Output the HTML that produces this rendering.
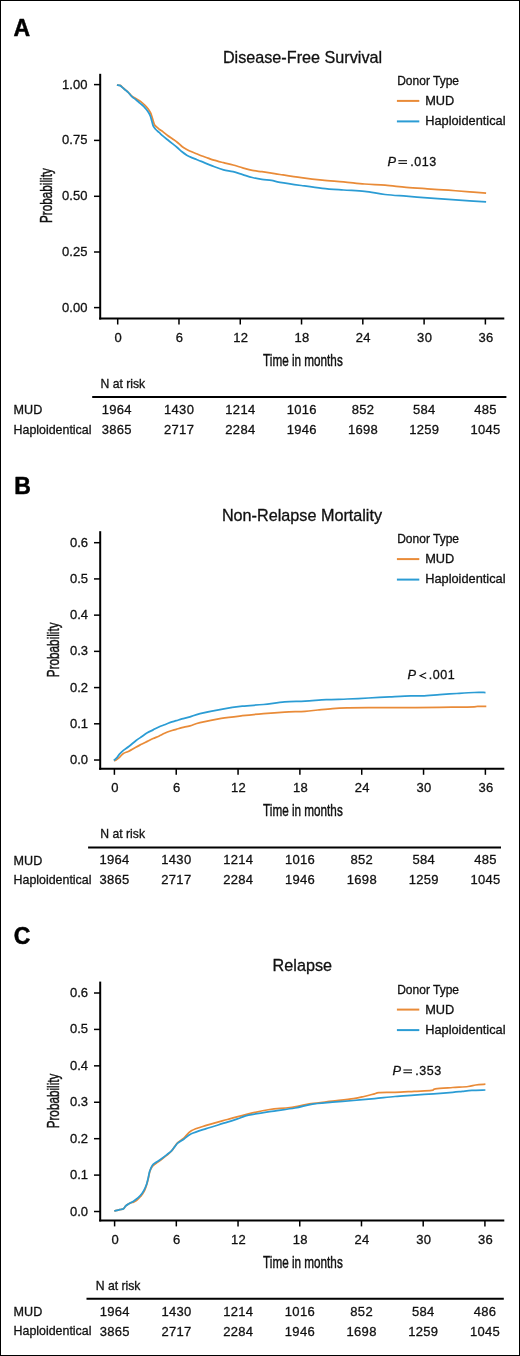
<!DOCTYPE html>
<html><head><meta charset="utf-8"><style>
html,body{margin:0;padding:0;background:#fff;}
svg{display:block;will-change:transform;}
text{font-family:"Liberation Sans", sans-serif;fill:#111;stroke:#111;stroke-width:0.3px;}
</style></head><body>
<svg width="520" height="1356" viewBox="0 0 520 1356">
<rect x="0" y="0" width="520" height="1356" fill="#fff"/>
<rect x="0.5" y="0.5" width="519" height="1355" fill="none" stroke="#000" stroke-width="1"/>
<text x="13.6" y="35.8" font-size="23" text-anchor="start" font-weight="bold" style="fill:#000;stroke:#000;stroke-width:0.5px;stroke-linejoin:round">A</text>
<text x="302.5" y="62.9" font-size="16.2" text-anchor="middle">Disease-Free Survival</text>
<text x="397.2" y="84.8" font-size="12" text-anchor="start">Donor Type</text>
<line x1="396.9" y1="100.9" x2="419.3" y2="100.9" stroke="#E98B38" stroke-width="2"/>
<text x="425.2" y="105.1" font-size="12.8" text-anchor="start">MUD</text>
<line x1="396.9" y1="121.4" x2="419.3" y2="121.4" stroke="#2B9CD4" stroke-width="2"/>
<text x="425.2" y="125.2" font-size="12.8" text-anchor="start">Haploidentical</text>
<text x="387.4" y="165.5" font-size="12.8" text-anchor="start" font-style="italic">P</text>
<rect x="398.4" y="160.15" width="8.6" height="1.1" fill="#111"/>
<rect x="398.4" y="162.85" width="8.6" height="1.1" fill="#111"/>
<text x="410.2" y="165.5" font-size="12.5" text-anchor="start" letter-spacing="0.6">.013</text>
<line x1="100.2" y1="73.8" x2="100.2" y2="319.5" stroke="#000" stroke-width="2"/>
<line x1="99.2" y1="318.5" x2="504.3" y2="318.5" stroke="#000" stroke-width="2"/>
<line x1="94" y1="84.6" x2="100.2" y2="84.6" stroke="#000" stroke-width="1.5"/>
<text x="87.4" y="88.6" font-size="13" text-anchor="end">1.00</text>
<line x1="94" y1="140.4" x2="100.2" y2="140.4" stroke="#000" stroke-width="1.5"/>
<text x="87.4" y="144.4" font-size="13" text-anchor="end">0.75</text>
<line x1="94" y1="196.3" x2="100.2" y2="196.3" stroke="#000" stroke-width="1.5"/>
<text x="87.4" y="200.3" font-size="13" text-anchor="end">0.50</text>
<line x1="94" y1="252" x2="100.2" y2="252" stroke="#000" stroke-width="1.5"/>
<text x="87.4" y="256" font-size="13" text-anchor="end">0.25</text>
<line x1="94" y1="307.6" x2="100.2" y2="307.6" stroke="#000" stroke-width="1.5"/>
<text x="87.4" y="311.6" font-size="13" text-anchor="end">0.00</text>
<line x1="117.7" y1="318.5" x2="117.7" y2="324.5" stroke="#000" stroke-width="1.5"/>
<text x="118.25" y="341.6" font-size="13" text-anchor="middle" letter-spacing="0.3">0</text>
<line x1="178.98" y1="318.5" x2="178.98" y2="324.5" stroke="#000" stroke-width="1.5"/>
<text x="179.53" y="341.6" font-size="13" text-anchor="middle" letter-spacing="0.3">6</text>
<line x1="240.26" y1="318.5" x2="240.26" y2="324.5" stroke="#000" stroke-width="1.5"/>
<text x="240.81" y="341.6" font-size="13" text-anchor="middle" letter-spacing="0.3">12</text>
<line x1="301.54" y1="318.5" x2="301.54" y2="324.5" stroke="#000" stroke-width="1.5"/>
<text x="302.09" y="341.6" font-size="13" text-anchor="middle" letter-spacing="0.3">18</text>
<line x1="362.82" y1="318.5" x2="362.82" y2="324.5" stroke="#000" stroke-width="1.5"/>
<text x="363.37" y="341.6" font-size="13" text-anchor="middle" letter-spacing="0.3">24</text>
<line x1="424.1" y1="318.5" x2="424.1" y2="324.5" stroke="#000" stroke-width="1.5"/>
<text x="424.65" y="341.6" font-size="13" text-anchor="middle" letter-spacing="0.3">30</text>
<line x1="485.38" y1="318.5" x2="485.38" y2="324.5" stroke="#000" stroke-width="1.5"/>
<text x="485.93" y="341.6" font-size="13" text-anchor="middle" letter-spacing="0.3">36</text>
<text transform="translate(51.6,195.6) rotate(-90) scale(0.69,1)" font-size="17" text-anchor="middle" style="stroke-width:0.45px">Probability</text>
<text transform="translate(302.9,365.5) scale(0.69,1)" font-size="17" text-anchor="middle" style="stroke-width:0.45px">Time in months</text>
<text x="100.5" y="387.6" font-size="12.2" text-anchor="start">N at risk</text>
<line x1="92.2" y1="397" x2="506.4" y2="397" stroke="#000" stroke-width="2"/>
<text x="13.6" y="414.2" font-size="12.6" text-anchor="start">MUD</text>
<text x="13.6" y="433.6" font-size="12.4" text-anchor="start">Haploidentical</text>
<text x="116.85" y="414.3" font-size="13" text-anchor="middle" letter-spacing="0.3">1964</text>
<text x="116.85" y="434.3" font-size="13" text-anchor="middle" letter-spacing="0.3">3865</text>
<text x="179.13" y="414.3" font-size="13" text-anchor="middle" letter-spacing="0.3">1430</text>
<text x="179.13" y="434.3" font-size="13" text-anchor="middle" letter-spacing="0.3">2717</text>
<text x="240.41" y="414.3" font-size="13" text-anchor="middle" letter-spacing="0.3">1214</text>
<text x="240.41" y="434.3" font-size="13" text-anchor="middle" letter-spacing="0.3">2284</text>
<text x="301.69" y="414.3" font-size="13" text-anchor="middle" letter-spacing="0.3">1016</text>
<text x="301.69" y="434.3" font-size="13" text-anchor="middle" letter-spacing="0.3">1946</text>
<text x="362.97" y="414.3" font-size="13" text-anchor="middle" letter-spacing="0.3">852</text>
<text x="362.97" y="434.3" font-size="13" text-anchor="middle" letter-spacing="0.3">1698</text>
<text x="424.25" y="414.3" font-size="13" text-anchor="middle" letter-spacing="0.3">584</text>
<text x="424.25" y="434.3" font-size="13" text-anchor="middle" letter-spacing="0.3">1259</text>
<text x="485.53" y="414.3" font-size="13" text-anchor="middle" letter-spacing="0.3">485</text>
<text x="485.53" y="434.3" font-size="13" text-anchor="middle" letter-spacing="0.3">1045</text>
<path d="M116.9,85 C117.45,85.07 119.25,84.98 120.2,85.4 C121.15,85.82 121.72,86.75 122.6,87.5 C123.48,88.25 124.55,89.1 125.5,89.9 C126.45,90.7 127.42,91.43 128.3,92.3 C129.18,93.17 130.07,94.35 130.8,95.1 C131.53,95.85 131.67,96.12 132.7,96.8 C133.73,97.48 135.65,98.4 137,99.2 C138.35,100 139.52,100.63 140.8,101.6 C142.08,102.57 143.5,103.8 144.7,105 C145.9,106.2 147.03,107.52 148,108.8 C148.97,110.08 149.85,111.42 150.5,112.7 C151.15,113.98 151.43,115.07 151.9,116.5 C152.37,117.93 152.82,119.85 153.3,121.3 C153.78,122.75 154.15,124.18 154.8,125.2 C155.45,126.22 156.33,126.63 157.2,127.4 C158.07,128.17 159.07,129.1 160,129.8 C160.93,130.5 161.53,130.65 162.8,131.6 C164.07,132.55 166,134.3 167.6,135.5 C169.2,136.7 170.8,137.68 172.4,138.8 C174,139.92 175.6,140.92 177.2,142.2 C178.8,143.48 180.4,145.3 182,146.5 C183.6,147.7 185.18,148.52 186.8,149.4 C188.42,150.28 190.08,151.08 191.7,151.8 C193.32,152.52 194.9,153.05 196.5,153.7 C198.1,154.35 199.38,154.97 201.3,155.7 C203.22,156.43 205.92,157.35 208,158.1 C210.08,158.85 211.22,159.43 213.8,160.2 C216.38,160.97 220.28,161.9 223.5,162.7 C226.72,163.5 229.9,164.13 233.1,165 C236.3,165.87 239.5,167 242.7,167.9 C245.9,168.8 249.1,169.77 252.3,170.4 C255.5,171.03 258.7,171.25 261.9,171.7 C265.1,172.15 268.48,172.63 271.5,173.1 C274.52,173.57 275.05,173.73 280,174.5 C284.95,175.27 294.15,176.75 301.2,177.7 C308.25,178.65 315.25,179.5 322.3,180.2 C329.35,180.9 336.45,181.27 343.5,181.9 C350.55,182.53 357.68,183.45 364.6,184 C371.52,184.55 378.07,184.65 385,185.2 C391.93,185.75 399.15,186.7 406.2,187.3 C413.25,187.9 420.25,188.32 427.3,188.8 C434.35,189.28 441.45,189.68 448.5,190.2 C455.55,190.72 463.33,191.4 469.6,191.9 C475.87,192.4 483.35,192.98 486.1,193.2" fill="none" stroke="#E98B38" stroke-width="1.75" stroke-linejoin="round" stroke-linecap="butt"/>
<path d="M116.9,85 C117.45,85.1 119.25,85.15 120.2,85.6 C121.15,86.05 121.72,86.95 122.6,87.7 C123.48,88.45 124.55,89.3 125.5,90.1 C126.45,90.9 127.42,91.62 128.3,92.5 C129.18,93.38 130.07,94.6 130.8,95.4 C131.53,96.2 131.83,96.58 132.7,97.3 C133.57,98.02 134.8,98.73 136,99.7 C137.2,100.67 138.62,101.98 139.9,103.1 C141.18,104.22 142.58,105.28 143.7,106.4 C144.82,107.52 145.72,108.67 146.6,109.8 C147.48,110.93 148.35,112.08 149,113.2 C149.65,114.32 150.02,115.15 150.5,116.5 C150.98,117.85 151.43,119.68 151.9,121.3 C152.37,122.92 152.65,124.83 153.3,126.2 C153.95,127.57 154.83,128.47 155.8,129.5 C156.77,130.53 157.93,131.33 159.1,132.4 C160.27,133.47 161.38,134.67 162.8,135.9 C164.22,137.13 166,138.52 167.6,139.8 C169.2,141.08 170.8,142.32 172.4,143.6 C174,144.88 175.6,146.13 177.2,147.5 C178.8,148.87 180.4,150.52 182,151.8 C183.6,153.08 185.18,154.23 186.8,155.2 C188.42,156.17 190.08,156.88 191.7,157.6 C193.32,158.32 194.9,158.87 196.5,159.5 C198.1,160.13 198.42,160.23 201.3,161.4 C204.18,162.57 210.1,165.1 213.8,166.5 C217.5,167.9 220.28,168.93 223.5,169.8 C226.72,170.67 229.9,170.9 233.1,171.7 C236.3,172.5 239.5,173.63 242.7,174.6 C245.9,175.57 249.1,176.7 252.3,177.5 C255.5,178.3 258.7,178.92 261.9,179.4 C265.1,179.88 268.48,179.92 271.5,180.4 C274.52,180.88 275.05,181.45 280,182.3 C284.95,183.15 294.15,184.5 301.2,185.5 C308.25,186.5 315.25,187.55 322.3,188.3 C329.35,189.05 336.45,189.48 343.5,190 C350.55,190.52 357.68,190.65 364.6,191.4 C371.52,192.15 378.07,193.7 385,194.5 C391.93,195.3 399.15,195.65 406.2,196.2 C413.25,196.75 420.25,197.28 427.3,197.8 C434.35,198.32 441.45,198.8 448.5,199.3 C455.55,199.8 463.33,200.37 469.6,200.8 C475.87,201.23 483.35,201.72 486.1,201.9" fill="none" stroke="#2B9CD4" stroke-width="1.75" stroke-linejoin="round" stroke-linecap="butt"/>
<text x="14.2" y="493.7" font-size="23" text-anchor="start" font-weight="bold" style="fill:#000;stroke:#000;stroke-width:0.5px;stroke-linejoin:round">B</text>
<text x="302" y="520.6" font-size="16.2" text-anchor="middle">Non-Relapse Mortality</text>
<text x="397.2" y="543" font-size="12" text-anchor="start">Donor Type</text>
<line x1="396.9" y1="559.1" x2="419.3" y2="559.1" stroke="#E98B38" stroke-width="2"/>
<text x="425.2" y="563.3" font-size="12.8" text-anchor="start">MUD</text>
<line x1="396.9" y1="579.6" x2="419.3" y2="579.6" stroke="#2B9CD4" stroke-width="2"/>
<text x="425.2" y="583.4" font-size="12.8" text-anchor="start">Haploidentical</text>
<text x="407.4" y="679" font-size="12.8" text-anchor="start" font-style="italic">P</text>
<path d="M426.2,672.8 L420,675.7 L426.2,678.6" fill="none" stroke="#111" stroke-width="1.1"/>
<text x="428.7" y="679" font-size="12.5" text-anchor="start" letter-spacing="0.6">.001</text>
<line x1="100.2" y1="531.2" x2="100.2" y2="769.8" stroke="#000" stroke-width="2"/>
<line x1="99.2" y1="768.8" x2="504.3" y2="768.8" stroke="#000" stroke-width="2"/>
<line x1="94" y1="542.7" x2="100.2" y2="542.7" stroke="#000" stroke-width="1.5"/>
<text x="88" y="546.7" font-size="13" text-anchor="end">0.6</text>
<line x1="94" y1="578.92" x2="100.2" y2="578.92" stroke="#000" stroke-width="1.5"/>
<text x="88" y="582.92" font-size="13" text-anchor="end">0.5</text>
<line x1="94" y1="615.14" x2="100.2" y2="615.14" stroke="#000" stroke-width="1.5"/>
<text x="88" y="619.14" font-size="13" text-anchor="end">0.4</text>
<line x1="94" y1="651.36" x2="100.2" y2="651.36" stroke="#000" stroke-width="1.5"/>
<text x="88" y="655.36" font-size="13" text-anchor="end">0.3</text>
<line x1="94" y1="687.58" x2="100.2" y2="687.58" stroke="#000" stroke-width="1.5"/>
<text x="88" y="691.58" font-size="13" text-anchor="end">0.2</text>
<line x1="94" y1="723.8" x2="100.2" y2="723.8" stroke="#000" stroke-width="1.5"/>
<text x="88" y="727.8" font-size="13" text-anchor="end">0.1</text>
<line x1="94" y1="760.02" x2="100.2" y2="760.02" stroke="#000" stroke-width="1.5"/>
<text x="88" y="764.02" font-size="13" text-anchor="end">0.0</text>
<line x1="114.4" y1="768.8" x2="114.4" y2="774.8" stroke="#000" stroke-width="1.5"/>
<text x="114.95" y="792.3" font-size="13" text-anchor="middle" letter-spacing="0.3">0</text>
<line x1="176.23" y1="768.8" x2="176.23" y2="774.8" stroke="#000" stroke-width="1.5"/>
<text x="176.78" y="792.3" font-size="13" text-anchor="middle" letter-spacing="0.3">6</text>
<line x1="238.06" y1="768.8" x2="238.06" y2="774.8" stroke="#000" stroke-width="1.5"/>
<text x="238.61" y="792.3" font-size="13" text-anchor="middle" letter-spacing="0.3">12</text>
<line x1="299.89" y1="768.8" x2="299.89" y2="774.8" stroke="#000" stroke-width="1.5"/>
<text x="300.44" y="792.3" font-size="13" text-anchor="middle" letter-spacing="0.3">18</text>
<line x1="361.72" y1="768.8" x2="361.72" y2="774.8" stroke="#000" stroke-width="1.5"/>
<text x="362.27" y="792.3" font-size="13" text-anchor="middle" letter-spacing="0.3">24</text>
<line x1="423.55" y1="768.8" x2="423.55" y2="774.8" stroke="#000" stroke-width="1.5"/>
<text x="424.1" y="792.3" font-size="13" text-anchor="middle" letter-spacing="0.3">30</text>
<line x1="485.38" y1="768.8" x2="485.38" y2="774.8" stroke="#000" stroke-width="1.5"/>
<text x="485.93" y="792.3" font-size="13" text-anchor="middle" letter-spacing="0.3">36</text>
<text transform="translate(59.4,649.8) rotate(-90) scale(0.69,1)" font-size="17" text-anchor="middle" style="stroke-width:0.45px">Probability</text>
<text transform="translate(302.9,815.5) scale(0.69,1)" font-size="17" text-anchor="middle" style="stroke-width:0.45px">Time in months</text>
<text x="100.3" y="837.9" font-size="12.2" text-anchor="start">N at risk</text>
<line x1="88.1" y1="847.4" x2="501" y2="847.4" stroke="#000" stroke-width="2"/>
<text x="13.6" y="864.6" font-size="12.6" text-anchor="start">MUD</text>
<text x="13.6" y="883.5" font-size="12.4" text-anchor="start">Haploidentical</text>
<text x="114.55" y="864.4" font-size="13" text-anchor="middle" letter-spacing="0.3">1964</text>
<text x="114.55" y="884.3" font-size="13" text-anchor="middle" letter-spacing="0.3">3865</text>
<text x="176.38" y="864.4" font-size="13" text-anchor="middle" letter-spacing="0.3">1430</text>
<text x="176.38" y="884.3" font-size="13" text-anchor="middle" letter-spacing="0.3">2717</text>
<text x="238.21" y="864.4" font-size="13" text-anchor="middle" letter-spacing="0.3">1214</text>
<text x="238.21" y="884.3" font-size="13" text-anchor="middle" letter-spacing="0.3">2284</text>
<text x="300.04" y="864.4" font-size="13" text-anchor="middle" letter-spacing="0.3">1016</text>
<text x="300.04" y="884.3" font-size="13" text-anchor="middle" letter-spacing="0.3">1946</text>
<text x="361.87" y="864.4" font-size="13" text-anchor="middle" letter-spacing="0.3">852</text>
<text x="361.87" y="884.3" font-size="13" text-anchor="middle" letter-spacing="0.3">1698</text>
<text x="423.7" y="864.4" font-size="13" text-anchor="middle" letter-spacing="0.3">584</text>
<text x="423.7" y="884.3" font-size="13" text-anchor="middle" letter-spacing="0.3">1259</text>
<text x="485.53" y="864.4" font-size="13" text-anchor="middle" letter-spacing="0.3">485</text>
<text x="485.53" y="884.3" font-size="13" text-anchor="middle" letter-spacing="0.3">1045</text>
<path d="M113.9,760.5 C114.2,760.45 114.77,760.73 115.7,760.2 C116.63,759.67 118.22,758.42 119.5,757.3 C120.78,756.18 121.85,754.52 123.4,753.5 C124.95,752.48 126.73,752.25 128.8,751.2 C130.87,750.15 133.68,748.35 135.8,747.2 C137.92,746.05 139.58,745.27 141.5,744.3 C143.42,743.33 145.37,742.37 147.3,741.4 C149.23,740.43 151.18,739.37 153.1,738.5 C155.02,737.63 156.88,737.07 158.8,736.2 C160.72,735.33 162.67,734.17 164.6,733.3 C166.53,732.43 168.47,731.67 170.4,731 C172.33,730.33 174.28,729.87 176.2,729.3 C178.12,728.73 179.6,728.18 181.9,727.6 C184.2,727.02 186.98,726.62 190,725.8 C193.02,724.98 194.8,723.93 200,722.7 C205.2,721.47 214.15,719.57 221.2,718.4 C228.25,717.23 235.25,716.5 242.3,715.7 C249.35,714.9 256.45,714.2 263.5,713.6 C270.55,713 277.68,712.48 284.6,712.1 C291.52,711.72 299.48,711.65 305,711.3 C310.52,710.95 313.12,710.45 317.7,710 C322.28,709.55 327.57,708.95 332.5,708.6 C337.43,708.25 341.3,708.08 347.3,707.9 C353.3,707.72 358.88,707.53 368.5,707.5 C378.12,707.47 393.15,707.73 405,707.7 C416.85,707.67 430.95,707.38 439.6,707.3 C448.25,707.22 451.13,707.28 456.9,707.2 C462.67,707.12 470.73,706.95 474.2,706.8 C477.67,706.65 475.68,706.38 477.7,706.3 C479.72,706.22 484.87,706.3 486.3,706.3" fill="none" stroke="#E98B38" stroke-width="1.75" stroke-linejoin="round" stroke-linecap="butt"/>
<path d="M113.9,760.5 C114.45,759.97 116.27,758.35 117.2,757.3 C118.13,756.25 118.47,755.35 119.5,754.2 C120.53,753.05 121.85,751.68 123.4,750.4 C124.95,749.12 126.73,748.1 128.8,746.5 C130.87,744.9 133.68,742.42 135.8,740.8 C137.92,739.18 139.58,738.13 141.5,736.8 C143.42,735.47 145.37,733.95 147.3,732.8 C149.23,731.65 151.18,730.87 153.1,729.9 C155.02,728.93 156.88,727.87 158.8,727 C160.72,726.13 162.67,725.47 164.6,724.7 C166.53,723.93 168.47,723.07 170.4,722.4 C172.33,721.73 174.28,721.28 176.2,720.7 C178.12,720.12 179.6,719.55 181.9,718.9 C184.2,718.25 186.98,717.68 190,716.8 C193.02,715.92 194.8,714.85 200,713.6 C205.2,712.35 214.15,710.53 221.2,709.3 C228.25,708.07 235.25,707 242.3,706.2 C249.35,705.4 256.45,705.22 263.5,704.5 C270.55,703.78 277.68,702.45 284.6,701.9 C291.52,701.35 298.07,701.57 305,701.2 C311.93,700.83 319.15,700.07 326.2,699.7 C333.25,699.33 340.25,699.28 347.3,699 C354.35,698.72 361.45,698.35 368.5,698 C375.55,697.65 382.55,697.25 389.6,696.9 C396.65,696.55 405.35,696.07 410.8,695.9 C416.25,695.73 417.5,696.1 422.3,695.9 C427.1,695.7 433.83,695.1 439.6,694.7 C445.37,694.3 451.13,693.87 456.9,693.5 C462.67,693.13 469.43,692.67 474.2,692.5 C478.97,692.33 483.62,692.5 485.5,692.5" fill="none" stroke="#2B9CD4" stroke-width="1.75" stroke-linejoin="round" stroke-linecap="butt"/>
<text x="13.8" y="944.2" font-size="23" text-anchor="start" font-weight="bold" style="fill:#000;stroke:#000;stroke-width:0.5px;stroke-linejoin:round">C</text>
<text x="302.3" y="970.8" font-size="16.2" text-anchor="middle">Relapse</text>
<text x="397.2" y="993.5" font-size="12" text-anchor="start">Donor Type</text>
<line x1="396.9" y1="1009.6" x2="419.3" y2="1009.6" stroke="#E98B38" stroke-width="2"/>
<text x="425.2" y="1013.8" font-size="12.8" text-anchor="start">MUD</text>
<line x1="396.9" y1="1030.1" x2="419.3" y2="1030.1" stroke="#2B9CD4" stroke-width="2"/>
<text x="425.2" y="1033.9" font-size="12.8" text-anchor="start">Haploidentical</text>
<text x="392.4" y="1074.8" font-size="12.8" text-anchor="start" font-style="italic">P</text>
<rect x="403.4" y="1069.45" width="8.6" height="1.1" fill="#111"/>
<rect x="403.4" y="1072.15" width="8.6" height="1.1" fill="#111"/>
<text x="415.2" y="1074.8" font-size="12.5" text-anchor="start" letter-spacing="0.6">.353</text>
<line x1="100.2" y1="981.6" x2="100.2" y2="1221.4" stroke="#000" stroke-width="2"/>
<line x1="99.2" y1="1220.4" x2="504.3" y2="1220.4" stroke="#000" stroke-width="2"/>
<line x1="94" y1="993" x2="100.2" y2="993" stroke="#000" stroke-width="1.5"/>
<text x="88" y="997" font-size="13" text-anchor="end">0.6</text>
<line x1="94" y1="1029.42" x2="100.2" y2="1029.42" stroke="#000" stroke-width="1.5"/>
<text x="88" y="1033.42" font-size="13" text-anchor="end">0.5</text>
<line x1="94" y1="1065.84" x2="100.2" y2="1065.84" stroke="#000" stroke-width="1.5"/>
<text x="88" y="1069.84" font-size="13" text-anchor="end">0.4</text>
<line x1="94" y1="1102.26" x2="100.2" y2="1102.26" stroke="#000" stroke-width="1.5"/>
<text x="88" y="1106.26" font-size="13" text-anchor="end">0.3</text>
<line x1="94" y1="1138.68" x2="100.2" y2="1138.68" stroke="#000" stroke-width="1.5"/>
<text x="88" y="1142.68" font-size="13" text-anchor="end">0.2</text>
<line x1="94" y1="1175.1" x2="100.2" y2="1175.1" stroke="#000" stroke-width="1.5"/>
<text x="88" y="1179.1" font-size="13" text-anchor="end">0.1</text>
<line x1="94" y1="1211.52" x2="100.2" y2="1211.52" stroke="#000" stroke-width="1.5"/>
<text x="88" y="1215.52" font-size="13" text-anchor="end">0.0</text>
<line x1="114.6" y1="1220.4" x2="114.6" y2="1226.4" stroke="#000" stroke-width="1.5"/>
<text x="115.15" y="1243.5" font-size="13" text-anchor="middle" letter-spacing="0.3">0</text>
<line x1="176.32" y1="1220.4" x2="176.32" y2="1226.4" stroke="#000" stroke-width="1.5"/>
<text x="176.87" y="1243.5" font-size="13" text-anchor="middle" letter-spacing="0.3">6</text>
<line x1="238.04" y1="1220.4" x2="238.04" y2="1226.4" stroke="#000" stroke-width="1.5"/>
<text x="238.59" y="1243.5" font-size="13" text-anchor="middle" letter-spacing="0.3">12</text>
<line x1="299.76" y1="1220.4" x2="299.76" y2="1226.4" stroke="#000" stroke-width="1.5"/>
<text x="300.31" y="1243.5" font-size="13" text-anchor="middle" letter-spacing="0.3">18</text>
<line x1="361.48" y1="1220.4" x2="361.48" y2="1226.4" stroke="#000" stroke-width="1.5"/>
<text x="362.03" y="1243.5" font-size="13" text-anchor="middle" letter-spacing="0.3">24</text>
<line x1="423.2" y1="1220.4" x2="423.2" y2="1226.4" stroke="#000" stroke-width="1.5"/>
<text x="423.75" y="1243.5" font-size="13" text-anchor="middle" letter-spacing="0.3">30</text>
<line x1="484.92" y1="1220.4" x2="484.92" y2="1226.4" stroke="#000" stroke-width="1.5"/>
<text x="485.47" y="1243.5" font-size="13" text-anchor="middle" letter-spacing="0.3">36</text>
<text transform="translate(59.4,1101) rotate(-90) scale(0.69,1)" font-size="17" text-anchor="middle" style="stroke-width:0.45px">Probability</text>
<text transform="translate(302.9,1267.8) scale(0.69,1)" font-size="17" text-anchor="middle" style="stroke-width:0.45px">Time in months</text>
<text x="95.7" y="1289.5" font-size="12.2" text-anchor="start">N at risk</text>
<line x1="86.5" y1="1298.8" x2="503.8" y2="1298.8" stroke="#000" stroke-width="2"/>
<text x="13.6" y="1316.2" font-size="12.6" text-anchor="start">MUD</text>
<text x="13.6" y="1335" font-size="12.4" text-anchor="start">Haploidentical</text>
<text x="114.75" y="1315.8" font-size="13" text-anchor="middle" letter-spacing="0.3">1964</text>
<text x="114.75" y="1336.2" font-size="13" text-anchor="middle" letter-spacing="0.3">3865</text>
<text x="176.47" y="1315.8" font-size="13" text-anchor="middle" letter-spacing="0.3">1430</text>
<text x="176.47" y="1336.2" font-size="13" text-anchor="middle" letter-spacing="0.3">2717</text>
<text x="238.19" y="1315.8" font-size="13" text-anchor="middle" letter-spacing="0.3">1214</text>
<text x="238.19" y="1336.2" font-size="13" text-anchor="middle" letter-spacing="0.3">2284</text>
<text x="299.91" y="1315.8" font-size="13" text-anchor="middle" letter-spacing="0.3">1016</text>
<text x="299.91" y="1336.2" font-size="13" text-anchor="middle" letter-spacing="0.3">1946</text>
<text x="361.63" y="1315.8" font-size="13" text-anchor="middle" letter-spacing="0.3">852</text>
<text x="361.63" y="1336.2" font-size="13" text-anchor="middle" letter-spacing="0.3">1698</text>
<text x="423.35" y="1315.8" font-size="13" text-anchor="middle" letter-spacing="0.3">584</text>
<text x="423.35" y="1336.2" font-size="13" text-anchor="middle" letter-spacing="0.3">1259</text>
<text x="485.07" y="1315.8" font-size="13" text-anchor="middle" letter-spacing="0.3">486</text>
<text x="485.07" y="1336.2" font-size="13" text-anchor="middle" letter-spacing="0.3">1045</text>
<path d="M114.3,1211 C115.2,1210.77 118.17,1209.97 119.7,1209.6 C121.23,1209.23 122.48,1209.43 123.5,1208.8 C124.52,1208.17 124.9,1206.63 125.8,1205.8 C126.7,1204.97 128,1204.32 128.9,1203.8 C129.8,1203.28 130.43,1202.97 131.2,1202.7 C131.97,1202.43 132.7,1202.52 133.5,1202.2 C134.3,1201.88 135.22,1201.35 136,1200.8 C136.78,1200.25 137.45,1199.62 138.2,1198.9 C138.95,1198.18 139.78,1197.32 140.5,1196.5 C141.22,1195.68 141.82,1195.02 142.5,1194 C143.18,1192.98 143.88,1192.03 144.6,1190.4 C145.32,1188.77 146.17,1186.25 146.8,1184.2 C147.43,1182.15 147.88,1180.27 148.4,1178.1 C148.92,1175.93 149.25,1173.15 149.9,1171.2 C150.55,1169.25 151.25,1167.73 152.3,1166.4 C153.35,1165.07 154.78,1164.27 156.2,1163.2 C157.62,1162.13 159.02,1161.33 160.8,1160 C162.58,1158.67 165.12,1156.7 166.9,1155.2 C168.68,1153.7 170.22,1152.42 171.5,1151 C172.78,1149.58 173.57,1148.1 174.6,1146.7 C175.63,1145.3 176.17,1144.02 177.7,1142.6 C179.23,1141.18 181.53,1140.18 183.8,1138.2 C186.07,1136.22 187.57,1132.83 191.3,1130.7 C195.03,1128.57 200.2,1127.27 206.2,1125.4 C212.2,1123.53 220.25,1121.43 227.3,1119.5 C234.35,1117.57 241.45,1115.47 248.5,1113.8 C255.55,1112.13 262.68,1110.55 269.6,1109.5 C276.52,1108.45 283.07,1108.47 290,1107.5 C296.93,1106.53 304.15,1104.75 311.2,1103.7 C318.25,1102.65 325.25,1102.05 332.3,1101.2 C339.35,1100.35 348.22,1099.38 353.5,1098.6 C358.78,1097.82 360.48,1097.3 364,1096.5 C367.52,1095.7 372.12,1094.43 374.6,1093.8 C377.08,1093.17 375.5,1092.95 378.9,1092.7 C382.3,1092.45 389.12,1092.53 395,1092.3 C400.88,1092.07 408.12,1091.62 414.2,1091.3 C420.28,1090.98 427.97,1090.82 431.5,1090.4 C435.03,1089.98 431.87,1089.28 435.4,1088.8 C438.93,1088.32 447.25,1087.88 452.7,1087.5 C458.15,1087.12 464.25,1086.92 468.1,1086.5 C471.95,1086.08 472.92,1085.38 475.8,1085 C478.68,1084.62 483.8,1084.33 485.4,1084.2" fill="none" stroke="#E98B38" stroke-width="1.75" stroke-linejoin="round" stroke-linecap="butt"/>
<path d="M114.3,1211 C115.2,1210.77 118.17,1209.97 119.7,1209.6 C121.23,1209.23 122.48,1209.43 123.5,1208.8 C124.52,1208.17 124.9,1206.63 125.8,1205.8 C126.7,1204.97 127.62,1204.57 128.9,1203.8 C130.18,1203.03 131.95,1202.22 133.5,1201.2 C135.05,1200.18 136.78,1198.98 138.2,1197.7 C139.62,1196.42 140.98,1194.85 142,1193.5 C143.02,1192.15 143.53,1191.15 144.3,1189.6 C145.07,1188.05 145.95,1186.12 146.6,1184.2 C147.25,1182.28 147.68,1180.27 148.2,1178.1 C148.72,1175.93 149.02,1173.32 149.7,1171.2 C150.38,1169.08 151.22,1166.88 152.3,1165.4 C153.38,1163.92 154.78,1163.33 156.2,1162.3 C157.62,1161.27 159.02,1160.48 160.8,1159.2 C162.58,1157.92 165.12,1156 166.9,1154.6 C168.68,1153.2 170.22,1152.08 171.5,1150.8 C172.78,1149.52 173.57,1148.18 174.6,1146.9 C175.63,1145.62 176.17,1144.38 177.7,1143.1 C179.23,1141.82 181.53,1140.75 183.8,1139.2 C186.07,1137.65 187.57,1135.57 191.3,1133.8 C195.03,1132.03 200.2,1130.53 206.2,1128.6 C212.2,1126.67 221.67,1123.97 227.3,1122.2 C232.93,1120.43 236.47,1119.17 240,1118 C243.53,1116.83 243.57,1116.27 248.5,1115.2 C253.43,1114.13 261.85,1112.8 269.6,1111.6 C277.35,1110.4 288.07,1109.22 295,1108 C301.93,1106.78 304.98,1105.27 311.2,1104.3 C317.42,1103.33 325.25,1102.83 332.3,1102.2 C339.35,1101.57 346.45,1101.1 353.5,1100.5 C360.55,1099.9 367.68,1099.27 374.6,1098.6 C381.52,1097.93 388.4,1097.07 395,1096.5 C401.6,1095.93 407.78,1095.65 414.2,1095.2 C420.62,1094.75 427.08,1094.28 433.5,1093.8 C439.92,1093.32 447.9,1092.72 452.7,1092.3 C457.5,1091.88 459.1,1091.62 462.3,1091.3 C465.5,1090.98 468.05,1090.62 471.9,1090.4 C475.75,1090.18 483.15,1090.07 485.4,1090" fill="none" stroke="#2B9CD4" stroke-width="1.75" stroke-linejoin="round" stroke-linecap="butt"/>
</svg>
</body></html>
